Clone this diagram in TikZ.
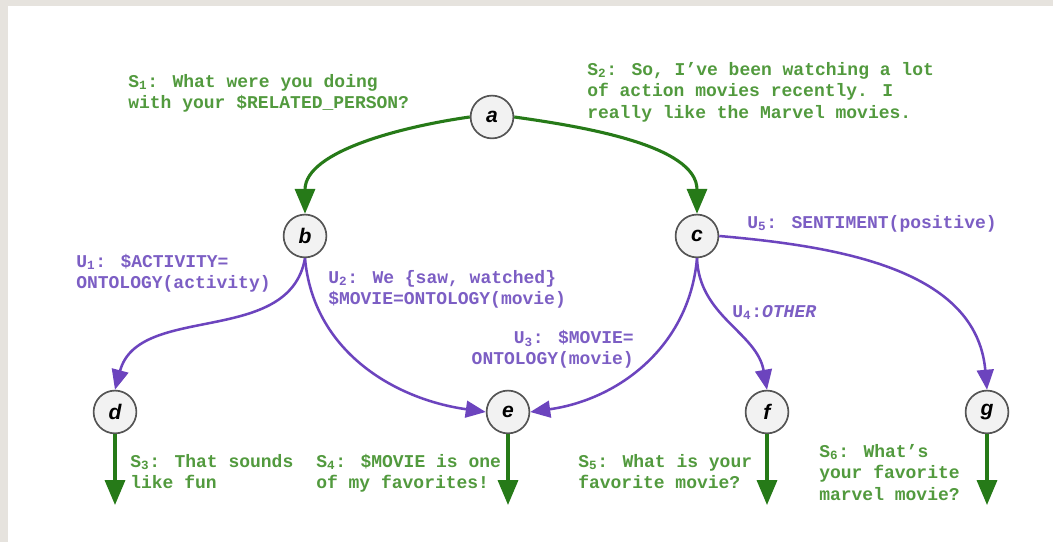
\documentclass[tikz,border=0pt]{standalone}
\usepackage{fontspec}
\usetikzlibrary{arrows.meta}

\newfontfamily\dialogfont{Liberation Mono}
\newfontfamily\letterfont{Liberation Sans}

\definecolor{sysgreen}{RGB}{38,122,24}
\definecolor{systextgreen}{RGB}{82,154,62}
\definecolor{userpurple}{RGB}{108,68,190}
\definecolor{usertextpurple}{RGB}{124,94,196}
\definecolor{stategray}{RGB}{85,85,85}
\definecolor{statefill}{RGB}{242,242,242}
\definecolor{framegray}{RGB}{230,227,222}

\tikzset{
    state/.style={circle, draw=stategray, fill=statefill, line width=1.2pt,
        minimum size=1.07cm, inner sep=0pt,
        font=\letterfont\bfseries\itshape\fontsize{15}{15}\selectfont},
    sysedge/.style={draw=sysgreen, line width=2.2pt,
        -{Triangle[width=0.5cm, length=0.62cm]}},
    useredge/.style={draw=userpurple, line width=1.8pt,
        -{Triangle[width=0.42cm, length=0.5cm]}},
    systext/.style={text=systextgreen, inner sep=0pt, align=left,
        font=\dialogfont\bfseries\fontsize{12.8}{15.3}\selectfont},
    usertext/.style={text=usertextpurple, inner sep=0pt, align=left,
        font=\dialogfont\bfseries\fontsize{12.8}{15.3}\selectfont}
}

\begin{document}
\begin{tikzpicture}
    % frame
    \fill[framegray] (0, 0) rectangle (26.325, 13.55);
    \fill[white] (0.2, 0) rectangle (26.325, 13.4);
    \useasboundingbox (0, 0) rectangle (26.325, 13.55);

    % states
    \node[state] (a) at (12.3, 10.625) {a};
    \node[state] (b) at (7.625, 7.65) {b};
    \node[state] (c) at (17.425, 7.65) {c};
    \node[state] (d) at (2.875, 3.25) {d};
    \node[state] (e) at (12.7, 3.25) {e};
    \node[state] (f) at (19.175, 3.25) {f};
    \node[state] (g) at (24.675, 3.25) {g};

    \coordinate (dout) at (2.875, 0.925);
    \coordinate (eout) at (12.7, 0.925);
    \coordinate (fout) at (19.175, 0.925);
    \coordinate (gout) at (24.675, 0.925);

    % system turns
    \draw[sysedge] (a.west) to[out=188, in=90, looseness=0.85] (b.north);
    \draw[sysedge] (a.east) to[out=-8, in=90, looseness=0.85] (c.north);
    \draw[sysedge] (d) -- (dout);
    \draw[sysedge] (e) -- (eout);
    \draw[sysedge] (f) -- (fout);
    \draw[sysedge] (g) -- (gout);

    % user turns
    \draw[useredge] (b.south) to[out=-100, in=75] (d.north);
    \draw[useredge] (b.south) to[out=-85, in=172] (e.west);
    \draw[useredge] (c.south) to[out=-95, in=8] (e.east);
    \draw[useredge] (c.south) to[out=-88, in=100] (f.north);
    \draw[useredge] (c.east) to[out=-5, in=95] (g.north);

    % labels
    \node[systext, anchor=north west] (s1) at (3.2, 11.7)
        {S\textsubscript{1}: What were you doing\\with your \$RELATED\_PERSON?};
    \node[systext, anchor=north west] (s2) at (14.675, 12.0)
        {S\textsubscript{2}: So, I’ve been watching a lot\\of action movies recently. I\\really like the Marvel movies.};
    \node[usertext, anchor=north west] (u1) at (1.9, 7.2)
        {U\textsubscript{1}: \$ACTIVITY=\\ONTOLOGY(activity)};
    \node[usertext, anchor=north west] (u2) at (8.2, 6.8)
        {U\textsubscript{2}: We \{saw, watched\}\\\$MOVIE=ONTOLOGY(movie)};
    \node[usertext, anchor=north east, align=right] (u3) at (15.85, 5.3)
        {U\textsubscript{3}: \$MOVIE=\\ONTOLOGY(movie)};
    \node[usertext, anchor=north west] (u4) at (18.3, 5.925)
        {U\textsubscript{4}:\textit{OTHER}};
    \node[usertext, anchor=north west] (u5) at (18.675, 8.175)
        {U\textsubscript{5}: SENTIMENT(positive)};
    \node[systext, anchor=north west] (s3) at (3.25, 2.2)
        {S\textsubscript{3}: That sounds\\like fun};
    \node[systext, anchor=north west] (s4) at (7.9, 2.2)
        {S\textsubscript{4}: \$MOVIE is one\\of my favorites!};
    \node[systext, anchor=north west] (s5) at (14.45, 2.2)
        {S\textsubscript{5}: What is your\\favorite movie?};
    \node[systext, anchor=north west] (s6) at (20.475, 2.45)
        {S\textsubscript{6}: What’s\\your favorite\\marvel movie?};
\end{tikzpicture}
\end{document}
